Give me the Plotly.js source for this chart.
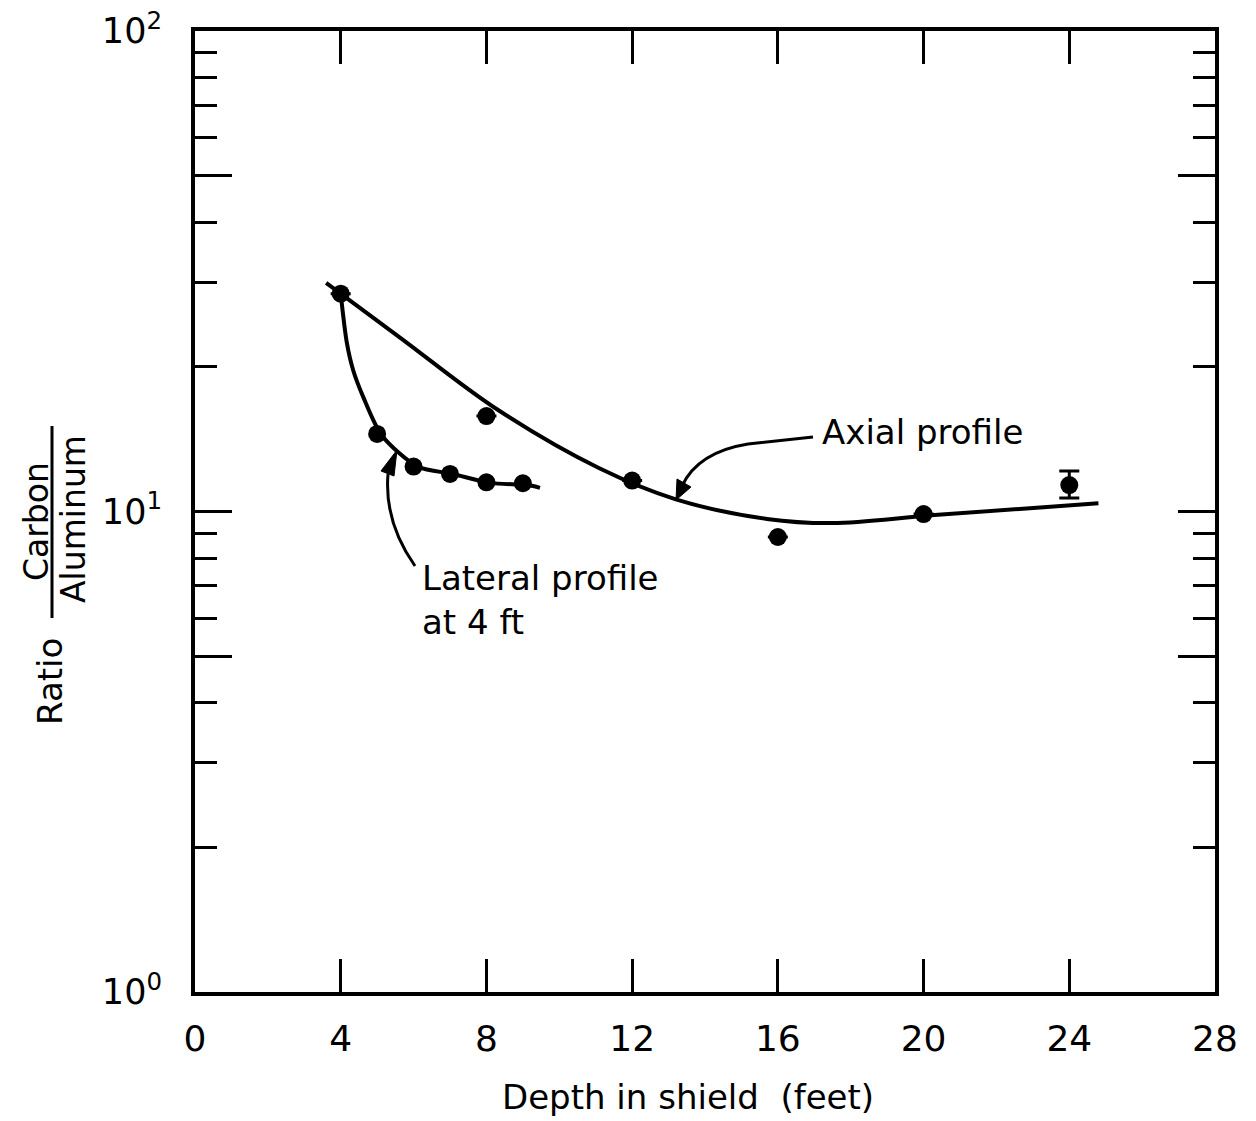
<!DOCTYPE html>
<html>
<head>
<meta charset="utf-8">
<script src="https://cdn.plot.ly/plotly-3.0.1.min.js"></script>
<style>html,body{margin:0;padding:0;background:#fff;}</style>
</head>
<body>
<div id="chart" style="width:1256px;height:1121px;"></div>
<script>
// ---- data ----
var axialPointsX = [4, 8, 12, 16, 20, 24];
var axialPointsY = [28.4, 15.8, 11.6, 8.85, 9.88, 11.35];
var axialErrPlus  = [0, 0, 0, 0, 0, 0.79];
var axialErrMinus = [0, 0, 0, 0, 0, 0.68];

var lateralPointsX = [5, 6, 7, 8, 9];
var lateralPointsY = [14.5, 12.4, 11.97, 11.5, 11.45];

var axialCurveX = [3.6, 5.6, 8.3, 11.1, 13.2, 15.7, 17.5, 20.3, 24.8];
var axialCurveY = [29.9, 23.1, 16.3, 12.3, 10.6, 9.65, 9.46, 9.83, 10.4];

var lateralCurveX = [4.0, 4.17, 4.34, 4.62, 5.13, 6.12, 7.08, 8.1, 9.14, 9.47];
var lateralCurveY = [28.4, 22.4, 19.7, 17.3, 14.4, 12.4, 11.97, 11.47, 11.35, 11.2];

var xTickVals = [0, 4, 8, 12, 16, 20, 24, 28];
var yTickVals = [1, 10, 100];
var yTickText = ["10<sup>0</sup>", "10<sup>1</sup>", "10<sup>2</sup>"];
var yHalfVals = [5, 50];
var yMinorVals = [2, 3, 4, 6, 7, 8, 9, 20, 30, 40, 60, 70, 80, 90];

// ---- layout geometry ----
var W = 1256, H = 1121;
var M = {l: 195, r: 41, t: 31, b: 129};
var PW = W - M.l - M.r, PH = H - M.t - M.b;
function px(x) { return (x - M.l) / PW; }
function py(y) { return (H - M.b - y) / PH; }
function pt(x, y) { return px(x).toFixed(5) + ',' + py(y).toFixed(5); }

var FONT = 'DejaVu Sans, Liberation Sans, sans-serif';

var traces = [
  {x: axialCurveX, y: axialCurveY, mode: 'lines', type: 'scatter',
   line: {color: '#000', width: 4, shape: 'spline', smoothing: 1}, hoverinfo: 'skip'},
  {x: lateralCurveX, y: lateralCurveY, mode: 'lines', type: 'scatter',
   line: {color: '#000', width: 4, shape: 'spline', smoothing: 0.8}, hoverinfo: 'skip'},
  {x: axialPointsX, y: axialPointsY, mode: 'markers', type: 'scatter',
   marker: {color: '#000', size: 18},
   error_y: {type: 'data', symmetric: false, array: axialErrPlus, arrayminus: axialErrMinus,
             color: '#000', thickness: 3, width: 10}},
  {x: lateralPointsX, y: lateralPointsY, mode: 'markers', type: 'scatter',
   marker: {color: '#000', size: 18}},
  // carrier for the half-decade tick axis
  {x: lateralPointsX, y: lateralPointsY, yaxis: 'y2', mode: 'markers', type: 'scatter',
   marker: {color: 'rgba(0,0,0,0)', size: 1}, hoverinfo: 'skip'}
];

var shapes = [
  // fraction bar of y title
  {type: 'line', xref: 'paper', yref: 'paper', x0: px(52), x1: px(52), y0: py(426), y1: py(618),
   line: {color: '#000', width: 3}},
  // axial profile arrow
  {type: 'path', xref: 'paper', yref: 'paper',
   path: 'M ' + pt(813, 437) + ' L ' + pt(748, 444) + ' Q ' + pt(698, 452) + ' ' + pt(682, 486),
   line: {color: '#000', width: 3}},
  {type: 'path', xref: 'paper', yref: 'paper',
   path: 'M ' + pt(676, 500) + ' L ' + pt(677, 479) + ' L ' + pt(691, 487) + ' Z',
   line: {color: '#000', width: 1}, fillcolor: '#000'},
  // lateral profile arrow
  {type: 'path', xref: 'paper', yref: 'paper',
   path: 'M ' + pt(415, 566) + ' Q ' + pt(384, 522) + ' ' + pt(388, 474),
   line: {color: '#000', width: 3}},
  {type: 'path', xref: 'paper', yref: 'paper',
   path: 'M ' + pt(397, 450) + ' L ' + pt(381, 471) + ' L ' + pt(394, 476) + ' Z',
   line: {color: '#000', width: 1}, fillcolor: '#000'}
];

var annotations = [
  {xref: 'paper', yref: 'paper', x: px(50), y: py(682), text: 'Ratio', textangle: -90,
   showarrow: false, xanchor: 'center', yanchor: 'middle', font: {family: FONT, size: 34, color: '#000'}},
  {xref: 'paper', yref: 'paper', x: px(36), y: py(522), text: 'Carbon', textangle: -90,
   showarrow: false, xanchor: 'center', yanchor: 'middle', font: {family: FONT, size: 33, color: '#000'}},
  {xref: 'paper', yref: 'paper', x: px(73), y: py(519), text: 'Aluminum', textangle: -90,
   showarrow: false, xanchor: 'center', yanchor: 'middle', font: {family: FONT, size: 33, color: '#000'}},
  {xref: 'paper', yref: 'paper', x: px(820), y: py(432), text: 'Axial profile',
   showarrow: false, xanchor: 'left', yanchor: 'middle', font: {family: FONT, size: 34, color: '#000'}},
  {xref: 'paper', yref: 'paper', x: px(420), y: py(600), text: 'Lateral profile<br>at 4 ft', align: 'left',
   showarrow: false, xanchor: 'left', yanchor: 'middle', font: {family: FONT, size: 34, color: '#000'}},
  {xref: 'paper', yref: 'paper', x: px(688), y: py(1097), text: 'Depth in shield&nbsp;&nbsp;(feet)',
   showarrow: false, xanchor: 'center', yanchor: 'middle', font: {family: FONT, size: 34, color: '#000'}}
];

var layout = {
  width: W, height: H,
  margin: M,
  paper_bgcolor: '#fff', plot_bgcolor: '#fff',
  showlegend: false,
  font: {family: FONT, color: '#000'},
  xaxis: {
    range: [0, 28], tickvals: xTickVals, ticks: 'inside', ticklen: 33, tickwidth: 3, tickcolor: '#000',
    showline: true, linewidth: 4, linecolor: '#000', mirror: 'ticks',
    showgrid: false, zeroline: false,
    tickfont: {family: FONT, size: 36, color: '#000'}, ticklabelstandoff: 12
  },
  yaxis: {
    type: 'log', range: [0, 2], tickvals: yTickVals, ticktext: yTickText,
    ticks: 'inside', ticklen: 37, tickwidth: 3, tickcolor: '#000',
    minor: {tickvals: yMinorVals, ticks: 'inside', ticklen: 22, tickwidth: 3, tickcolor: '#000', showgrid: false},
    showline: true, linewidth: 4, linecolor: '#000', mirror: 'ticks',
    showgrid: false, zeroline: false,
    tickfont: {family: FONT, size: 35, color: '#000'}, ticklabelstandoff: 22
  },
  yaxis2: {
    type: 'log', range: [0, 2], overlaying: 'y', side: 'left', anchor: 'x',
    tickvals: yHalfVals, showticklabels: false,
    ticks: 'inside', ticklen: 37, tickwidth: 3, tickcolor: '#000',
    showline: false, mirror: 'ticks', showgrid: false, zeroline: false
  },
  shapes: shapes,
  annotations: annotations
};

Plotly.newPlot('chart', traces, layout, {displayModeBar: false, staticPlot: true});
</script>
</body>
</html>
